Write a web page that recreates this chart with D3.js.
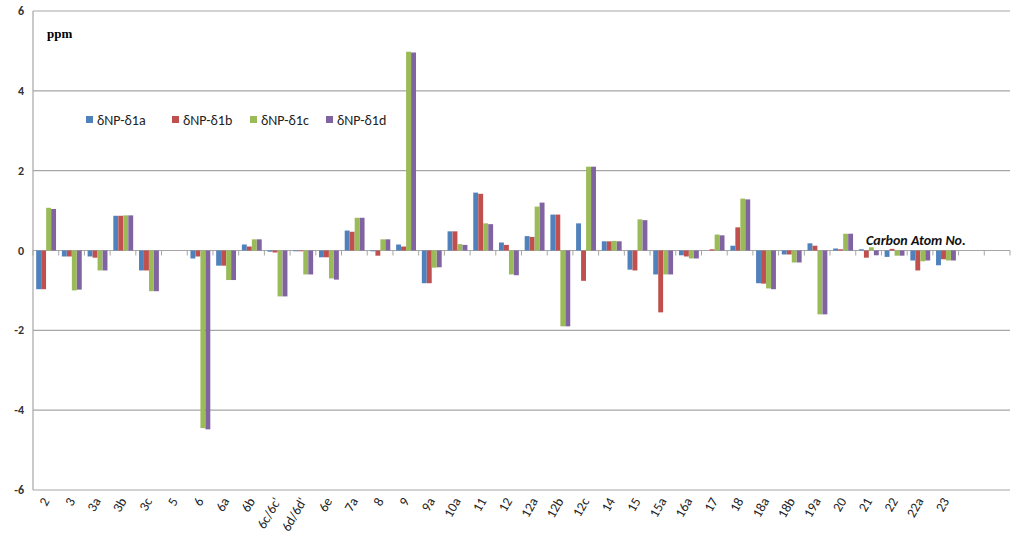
<!DOCTYPE html>
<html><head><meta charset="utf-8">
<script src="https://cdn.jsdelivr.net/npm/d3@7"></script>
<style>body{margin:0;background:#fff;font-family:Calibri,"Liberation Sans",Arial,sans-serif}</style>
</head><body><svg id="chart" width="1024" height="541"></svg>
<script>
(function () {
    const categories = ["2","3","3a","3b","3c","5","6","6a","6b","6c/6c'","6d/6d'","6e","7a","8","9","9a","10a","11","12","12a","12b","12c","14","15","15a","16a","17","18","18a","18b","19a","20","21","22","22a","23","",""];
    const seriesNames = ["δNP-δ1a","δNP-δ1b","δNP-δ1c","δNP-δ1d"];
    const colors = ["#4F81BD","#C0504D","#9BBB59","#8064A2"];
    const d1a = [-0.97,-0.15,-0.15,0.87,-0.5,0,-0.2,-0.38,0.15,-0.03,-0.02,-0.17,0.5,-0.02,0.15,-0.82,0.48,1.45,0.2,0.36,0.9,0.68,0.23,-0.48,-0.6,-0.12,0,0.12,-0.82,-0.1,0.18,0.05,0.03,-0.16,-0.25,-0.37];
    const d1b = [-0.97,-0.15,-0.18,0.87,-0.5,0,-0.15,-0.38,0.1,-0.05,-0.02,-0.17,0.47,-0.13,0.1,-0.82,0.48,1.42,0.14,0.34,0.9,-0.76,0.23,-0.5,-1.55,-0.15,0.03,0.58,-0.83,-0.1,0.12,0.03,-0.18,0.04,-0.5,-0.22];
    const d1c = [1.07,-1.0,-0.5,0.88,-1.02,0,-4.45,-0.74,0.28,-1.15,-0.6,-0.7,0.82,0.28,4.98,-0.43,0.16,0.68,-0.6,1.1,-1.9,2.1,0.24,0.78,-0.6,-0.2,0.4,1.3,-0.95,-0.3,-1.6,0.42,0.08,-0.13,-0.27,-0.25];
    const d1d = [1.04,-0.98,-0.5,0.88,-1.02,0,-4.48,-0.74,0.28,-1.15,-0.6,-0.73,0.82,0.28,4.96,-0.42,0.14,0.66,-0.62,1.2,-1.9,2.1,0.23,0.76,-0.6,-0.2,0.38,1.28,-0.97,-0.3,-1.6,0.42,-0.12,-0.13,-0.25,-0.25];
    const series = [d1a, d1b, d1c, d1d];
    const yTicks = [-6,-4,-2,0,2,4,6];

    const svg = d3.select('#chart');
    const left = 33, right = 1010, top = 11, bottom = 490;

    const x = d3.scaleBand().domain(categories.map((c, i) => i)).range([left, right]);
    const xs = d3.scaleBand().domain(d3.range(4)).range([x.bandwidth()*0.12, x.bandwidth()*0.9]).padding(0.02);
    const y = d3.scaleLinear().domain([-6, 6]).range([bottom, top]);

    // grid
    svg.append('g').selectAll('line').data(yTicks).join('line')
        .attr('x1', left).attr('x2', right)
        .attr('y1', d => y(d)).attr('y2', d => y(d))
        .attr('stroke', '#a6a6a6').attr('stroke-width', 1.2);

    // y axis
    svg.append('line').attr('x1', left).attr('x2', left).attr('y1', top).attr('y2', bottom)
        .attr('stroke', '#a6a6a6').attr('stroke-width', 1.2);
    svg.append('g').selectAll('text').data(yTicks).join('text')
        .attr('x', 24).attr('y', d => y(d) + 4).attr('text-anchor', 'end')
        .attr('font-size', 12).attr('font-weight', 'bold').attr('fill', '#333')
        .text(d => d);

    // bars
    series.forEach((vals, s) => {
        svg.append('g').selectAll('rect').data(vals).join('rect')
            .attr('x', (d, i) => x(i) + xs(s))
            .attr('width', xs.bandwidth())
            .attr('y', d => y(Math.max(0, d)))
            .attr('height', d => Math.abs(y(d) - y(0)))
            .attr('fill', colors[s]);
    });

    // zero axis ticks
    svg.append('g').selectAll('line').data(d3.range(categories.length + 1)).join('line')
        .attr('x1', i => left + i * x.step()).attr('x2', i => left + i * x.step())
        .attr('y1', y(0)).attr('y2', y(0) + 5).attr('stroke', '#a6a6a6');

    // category labels
    svg.append('g').selectAll('text').data(categories).join('text')
        .attr('transform', (d, i) => `translate(${x(i) + x.bandwidth()/2 + 4},${bottom + 11}) rotate(-60)`)
        .attr('text-anchor', 'end').attr('font-size', 13.5).attr('fill', '#222')
        .text(d => d);

    // legend
    const lg = svg.append('g').attr('transform', 'translate(86,121)');
    const lx = [0, 86, 164, 240];
    seriesNames.forEach((n, s) => {
        lg.append('rect').attr('x', lx[s]).attr('y', -5).attr('width', 7).attr('height', 7).attr('fill', colors[s]);
        lg.append('text').attr('x', lx[s] + 11).attr('y', 4).attr('font-size', 14).attr('fill', '#222').text(n);
    });

    svg.append('text').attr('x', 47).attr('y', 38).attr('font-family', '"Liberation Serif",serif')
        .attr('font-weight', 'bold').attr('font-size', 13).text('ppm');
    svg.append('text').attr('x', 866).attr('y', 245).attr('font-style', 'italic').attr('font-weight', 'bold')
        .attr('font-size', 14).attr('fill', '#111').text('Carbon Atom No.');
})();
</script></body></html>
